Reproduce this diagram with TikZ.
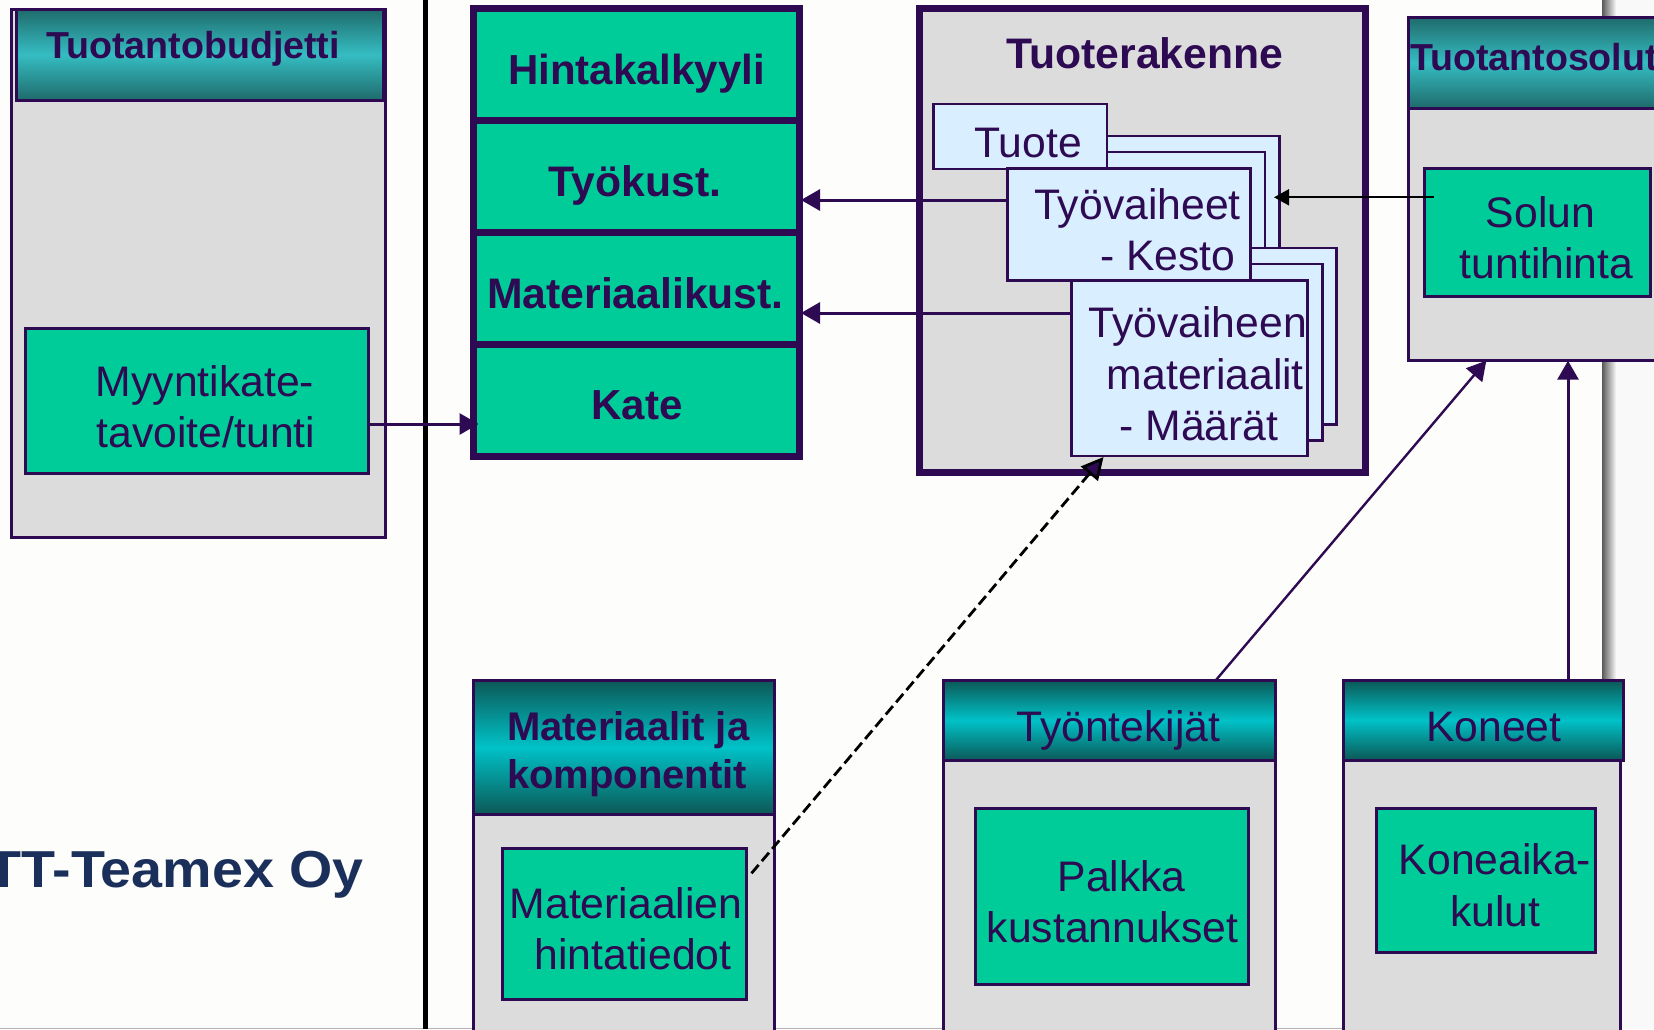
\documentclass[tikz,border=0pt]{standalone}
\usepackage{fontspec}
\setmainfont{Liberation Sans}
\usetikzlibrary{arrows.meta,calc}
\definecolor{ink}{HTML}{2D0A52}
\definecolor{grn}{HTML}{00CC99}
\definecolor{gry}{HTML}{DCDCDC}
\definecolor{sky}{HTML}{D9EEFF}
\definecolor{paper}{HTML}{FDFDFB}
\definecolor{tealA}{HTML}{1F6B6B}
\definecolor{tealB}{HTML}{35BDC2}
\definecolor{tealC}{HTML}{0C5856}
\definecolor{tealD}{HTML}{00C2C8}
\definecolor{navy}{HTML}{1B2F5B}
\newcommand{\bx}[6]{%
  \pgfmathsetmacro{\bw}{#5-#3}\pgfmathsetmacro{\bh}{#6-#4}%
  \pgfmathsetmacro{\bcx}{(#3+#5)/2}\pgfmathsetmacro{\bcy}{(#4+#6)/2}%
  \node[#1,minimum width=\bw pt,minimum height=\bh pt] (#2) at (\bcx,\bcy) {};}
\tikzset{
  x=1pt,y=-1pt,
  base box/.style={rectangle,inner sep=0pt,outer sep=0pt,draw=ink,line width=3pt},
  body/.style={base box,fill=gry},
  green box/.style={base box,fill=grn},
  cell/.style={base box,fill=grn,line width=7pt},
  frame/.style={base box,fill=gry,line width=7pt},
  paperbox/.style={base box,fill=sky,line width=2.8pt},
  headA/.style={base box,top color=tealA,bottom color=tealA,middle color=tealB},
  headB/.style={base box,top color=tealC,bottom color=tealC,middle color=tealD},
  lbl/.style={anchor=base,inner sep=0pt,outer sep=0pt,yshift=-1pt,text=ink,font=\fontsize{42.7}{50}\selectfont},
  blbl/.style={lbl,font=\fontsize{42.7}{50}\selectfont\bfseries},
  slbl/.style={lbl,font=\fontsize{37.6}{45}\selectfont\bfseries},
  mlbl/.style={lbl,font=\fontsize{40}{48}\selectfont\bfseries,anchor=base west},
  arr/.style={draw=ink,line width=3pt,-{Triangle[length=19pt,width=21pt,fill=ink]}},
  blk/.style={draw=black,line width=1.8pt,-{Triangle[length=15pt,width=16pt,fill=black]}},
  dsh/.style={draw=black,line width=2.8pt,dash pattern=on 11pt off 5pt,-{Triangle[length=22pt,width=22pt,fill=ink]}},
}
\begin{document}
\begin{tikzpicture}
\path[use as bounding box,clip] (0,0) rectangle (1654,1029);
% background
\fill[paper] (0,0) rectangle (1654,1029);
\fill[white!95!gray] (1610,0) rectangle (1654,1029);
\shade[left color=black!65,right color=white!95!gray,shading angle=90] (1602,0) rectangle (1616,1029);
\fill[gray!60] (0,1027.5) rectangle (1602,1029);
\fill[black] (423,0) rectangle (428,1029);

% Tuotantobudjetti
\bx{body}{budBody}{11}{9}{385}{537}
\bx{headA}{budHead}{16}{9}{383}{100}
\node[slbl] (budT) at (193,57) {Tuotantobudjetti};
\bx{green box}{myynti}{25.3}{328}{368}{473}
\node[lbl] (m1) at (205,395) {Myyntikate-};
\node[lbl] (m2) at (206,446) {tavoite/tunti};

% Hintakalkyyli stack
\bx{cell}{hinta}{473.5}{8.5}{799}{120}
\bx{cell}{tyok}{473.5}{120}{799}{232}
\bx{cell}{matk}{473.5}{232}{799}{344}
\bx{cell}{kate}{473.5}{344}{799}{456.5}
\node[blbl,font=\fontsize{42}{50}\selectfont\bfseries] (hT) at (636.5,83) {Hintakalkyyli};
\node[blbl] (tT) at (635,195) {Työkust.};
\node[blbl] (mT) at (635.5,307) {Materiaalikust.};
\node[blbl,font=\fontsize{42}{50}\selectfont\bfseries] (kT) at (637,418) {Kate};

% Tuoterakenne
\bx{frame}{tuoter}{919.3}{8.5}{1365.5}{472.5}
\node[blbl] (trT) at (1144.8,67.7) {Tuoterakenne};
\bx{paperbox}{tb1}{1060}{136}{1279.5}{262}
\bx{paperbox}{tb2}{1060}{152}{1265}{262}
\bx{paperbox}{mb1}{1100}{248}{1336.5}{424.7}
\bx{paperbox}{mb2}{1100}{264}{1322.8}{440.7}
\bx{paperbox}{tuote}{933.5}{104}{1107}{169}
\node[lbl] (tuT) at (1028,156.7) {Tuote};
\bx{paperbox}{tyov}{1007.5}{168.5}{1250.5}{280.7}
\node[lbl] (tv1) at (1137.5,218.3) {Työvaiheet};
\node[lbl] (tv2) at (1167.7,269.3) {- Kesto};
\bx{paperbox}{matf}{1071.5}{280.7}{1307.5}{456}
\node[lbl] (mf1) at (1197.6,336) {Työvaiheen};
\node[lbl] (mf2) at (1205.4,388.3) {materiaalit};
\node[lbl] (mf3) at (1199,439.3) {- Määrät};

% Tuotantosolut
\bx{body}{solBody}{1408.5}{17.3}{1670}{360.7}
\bx{headA}{solHead}{1408.5}{17.3}{1670}{108}
\node[slbl,anchor=base west] (solT) at (1410,69) {Tuotantosolut};
\bx{green box}{solun}{1424.5}{168}{1650.5}{296.7}
\node[lbl] (s1) at (1540.5,226.7) {Solun};
\node[lbl] (s2) at (1546.5,277.7) {tuntihinta};

% Materiaalit
\bx{body}{matBody}{473.5}{680}{774.5}{1045}
\bx{headB}{matHead}{473.5}{680}{774.5}{814.3}
\node[mlbl] (ma1) at (507,739) {Materiaalit ja};
\node[mlbl] (ma2) at (507,787) {komponentit};
\bx{green box}{mathin}{502}{848}{746.5}{999}
\node[lbl] (mh1) at (626,917.3) {Materiaalien};
\node[lbl] (mh2) at (633,968) {hintatiedot};

% Tyontekijat
\bx{body}{tekBody}{943.5}{680}{1275}{1045}
\bx{headB}{tekHead}{943.5}{680}{1275}{760.7}
\node[lbl] (teT) at (1118.4,740) {Työntekijät};
\bx{green box}{palkka}{975.7}{808.3}{1248.5}{984.3}
\node[lbl] (p1) at (1121.6,890.7) {Palkka};
\node[lbl] (p2) at (1112.5,941.7) {kustannukset};

% Koneet
\bx{body}{konBody}{1343.5}{680}{1620.8}{1045}
\bx{headB}{konHead}{1343.5}{680}{1623.4}{760}
\node[lbl] (koT) at (1493.7,740) {Koneet};
\bx{green box}{koneaika}{1376}{808.3}{1595.5}{952.3}
\node[lbl] (ka1) at (1495,873.3) {Koneaika-};
\node[lbl] (ka2) at (1495.5,925.7) {kulut};

% connectors
\draw[arr,shorten >=-5pt] (myynti.east |- 0,424) -- (kate.west |- 0,424);
\draw[arr,shorten >=2pt] (tyov.west |- 0,200) -- (tyok.east |- 0,200);
\draw[arr,shorten >=2pt] (matf.west |- 0,313) -- (matk.east |- 0,313);
\coordinate (solunIn) at ($(solun.west |- 0,197.3)+(9.5,0)$);
\coordinate (stackTip) at ($(tb1.east |- 0,197.3)+(-5.5,0)$);
\draw[blk] (solunIn) -- (stackTip);
\draw[arr,line width=2.4pt] (tekHead.north -| 1216,0) -- (solBody.south -| 1486.3,0);
\draw[arr] (konHead.north -| 1568,0) -- (solBody.south -| 1568,0);
\coordinate (dashStart) at ($(mathin.east |- 0,873.3)+(5,0)$);
\coordinate (dashTip) at ($(matf.south west)+(32,1)$);
\draw[dsh] (dashStart) -- (dashTip);

% logo text
\node[anchor=base east,inner sep=0pt,xscale=1.07,transform shape,text=navy,font=\fontsize{52}{60}\selectfont\bfseries] (logo) at (364,887.5) {TT-Teamex Oy};
\end{tikzpicture}
\end{document}
